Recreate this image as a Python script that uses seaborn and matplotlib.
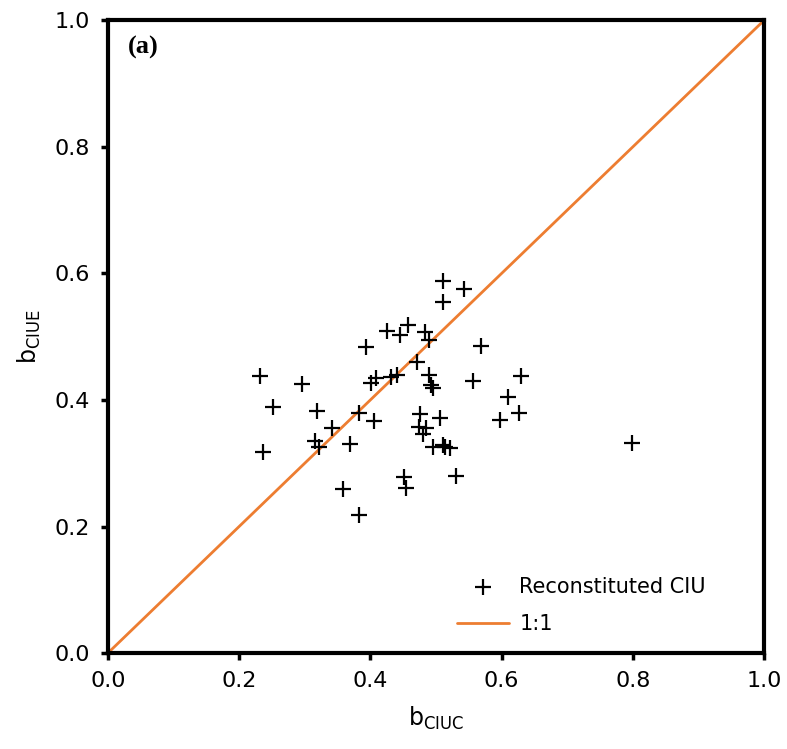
import seaborn as sns
import matplotlib.pyplot as plt
import pandas as pd

# b values
b_ciuc = [0.232, 0.296, 0.251, 0.318, 0.236, 0.394, 0.425, 0.445, 0.457, 0.401,
          0.408, 0.432, 0.441, 0.382, 0.405, 0.342, 0.315, 0.321, 0.369, 0.359,
          0.382, 0.471, 0.510, 0.543, 0.511, 0.484, 0.489, 0.568, 0.490, 0.492,
          0.495, 0.556, 0.630, 0.610, 0.626, 0.598, 0.476, 0.506, 0.474, 0.485,
          0.480, 0.496, 0.511, 0.513, 0.522, 0.530, 0.451, 0.454, 0.799]
b_ciue = [0.438, 0.425, 0.389, 0.383, 0.318, 0.484, 0.509, 0.503, 0.518, 0.427,
          0.434, 0.437, 0.439, 0.379, 0.366, 0.355, 0.335, 0.326, 0.331, 0.259,
          0.219, 0.460, 0.588, 0.575, 0.554, 0.508, 0.495, 0.486, 0.439, 0.424,
          0.419, 0.430, 0.438, 0.405, 0.380, 0.368, 0.378, 0.372, 0.358, 0.356,
          0.347, 0.326, 0.329, 0.326, 0.324, 0.280, 0.278, 0.261, 0.332]
one_to_one = [0.0, 1.0]

df = pd.DataFrame({'b_ciuc': b_ciuc, 'b_ciue': b_ciue})

sns.set_style('ticks', {'axes.edgecolor': 'black', 'text.color': 'black',
                        'axes.labelcolor': 'black', 'xtick.color': 'black',
                        'ytick.color': 'black'})
plt.rcParams['font.family'] = ['DejaVu Sans']

fig = plt.figure(figsize=(7.87, 7.49), dpi=100)
ax = fig.add_axes([0.137, 0.128, 0.834, 0.845])

sns.scatterplot(data=df, x='b_ciuc', y='b_ciue', marker='+', color='black',
                s=140, linewidth=1.6, label='Reconstituted CIU', ax=ax, zorder=3)
sns.lineplot(x=one_to_one, y=one_to_one, color='#ED7D31', linewidth=2,
             label='1:1', ax=ax, zorder=2)

ax.set_xlim(0, 1)
ax.set_ylim(0, 1)
ax.set_xticks([0, 0.2, 0.4, 0.6, 0.8, 1.0])
ax.set_yticks([0, 0.2, 0.4, 0.6, 0.8, 1.0])
ax.xaxis.set_major_formatter(plt.FormatStrFormatter('%.1f'))
ax.yaxis.set_major_formatter(plt.FormatStrFormatter('%.1f'))
ax.tick_params(labelsize=16, width=2.5, length=5, pad=8, colors='black')
for sp in ax.spines.values():
    sp.set_linewidth(3)
    sp.set_visible(True)
    sp.set_color('black')

ax.set_xlabel(r'b$_{\mathrm{CIUC}}$', fontsize=17, labelpad=10)
ax.set_ylabel(r'b$_{\mathrm{CIUE}}$', fontsize=17, labelpad=8)

ax.text(0.03, 0.975, '(a)', transform=ax.transAxes, fontsize=19,
        fontweight='bold', family='Liberation Serif', va='top', ha='left')

ax.legend(loc='lower right', bbox_to_anchor=(0.94, 0.0), frameon=False,
          fontsize=15, handlelength=2.5, handletextpad=0.5, labelspacing=0.85)

plt.savefig('out.png', dpi=100)
